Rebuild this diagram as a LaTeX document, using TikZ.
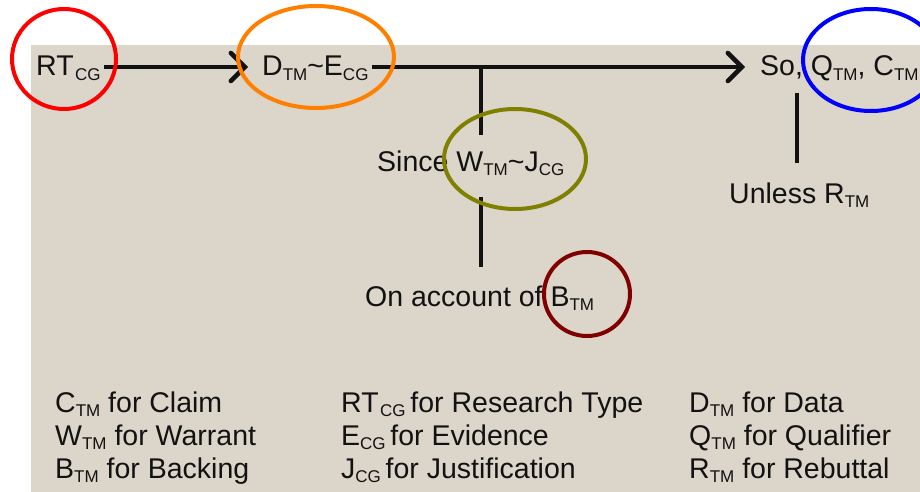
\documentclass[tikz,border=0pt]{standalone}
\usepackage{fontspec}
\setmainfont{Liberation Sans}
\usetikzlibrary{arrows.meta,shapes.geometric}
\definecolor{paper}{RGB}{219,213,202}
\definecolor{ink}{RGB}{18,18,18}
\definecolor{ringorange}{RGB}{255,128,0}
\definecolor{ringolive}{RGB}{128,128,0}
\definecolor{ringmaroon}{RGB}{128,0,0}
\newcommand\lo[1]{\raisebox{-0.30ex}{\fontsize{17}{17}\selectfont #1}}
\tikzset{
  txt/.style={anchor=base west, inner sep=0pt, text=ink, font=\fontsize{28.5}{28.5}\selectfont},
  leg/.style={anchor=base west, inner sep=0pt, text=ink, font=\fontsize{28.5}{28.5}\selectfont},
  flow/.style={draw=ink, line width=4.5pt,
    -{Straight Barb[length=14pt,width=28pt,line width=4.5pt,line cap=round]}},
  tie/.style={draw=ink, line width=4.5pt},
  ring/.style={draw=#1, line width=4pt, ellipse, inner sep=0pt}
}
\begin{document}
\begin{tikzpicture}[x=1pt,y=-1pt]
\useasboundingbox (0,0) rectangle (920,492);
\clip (0,0) rectangle (920,492);
% page background
\fill[white] (0,0) rectangle (920,492);
\fill[paper] (31,45) rectangle (920,492);

% main chain
\node[txt] (rt) at (36,76) {RT\kern1.5pt\lo{CG}};
\node[txt] (de) at (262,76) {D\lo{TM}\textasciitilde E\lo{CG}};
\node[txt] (so) at (760,76) {So, Q\lo{TM}, C\lo{TM}};
\node[txt] (since) at (377,171) {Since W\lo{TM}\textasciitilde J\lo{CG}};
\node[txt] (acc) at (365,306) {On account of B\lo{TM}};
\node[txt] (unless) at (729,203) {Unless R\lo{TM}};

% junctions and line ends
\coordinate (j) at (481,67);
\coordinate (wTop) at (481,135);
\coordinate (wBot) at (481,197);
\coordinate (bTop) at (481,267);
\coordinate (rTop) at (797,93);
\coordinate (rBot) at (797,163);

\draw[flow] ([xshift=3pt]rt.east |- j) -- ([xshift=-14pt]de.west |- j);
\draw[flow] ([xshift=3pt]de.east |- j) -- ([xshift=-15pt]so.west |- j);
\draw[tie] (j) -- (wTop);
\draw[tie] (wBot) -- (bTop);
\draw[tie] (rTop) -- (rBot);

% highlight rings
\node[ring=red, minimum width=104pt, minimum height=100pt] (cRT) at (64,59) {};
\node[ring=ringorange, minimum width=156pt, minimum height=102pt] (cDE) at (316,57) {};
\node[ring=ringolive, minimum width=142pt, minimum height=100pt] (cWJ) at (515,159) {};
\node[ring=ringmaroon, minimum width=86pt, minimum height=84pt] (cB) at (587,294) {};
\node[ring=blue, minimum width=136pt, minimum height=102pt] (cQC) at (871,60) {};

% legend
\node[leg] (l1) at (55,412) {C\lo{TM} for Claim};
\node[leg] (l2) at (55,445) {W\lo{TM} for Warrant};
\node[leg] (l3) at (55,478) {B\lo{TM} for Backing};
\node[leg] (l4) at (341,412) {RT\kern1.5pt\lo{CG}\,for Research Type};
\node[leg] (l5) at (341,445) {E\lo{CG}\,for Evidence};
\node[leg] (l6) at (341,478) {J\lo{CG}\,for Justification};
\node[leg] (l7) at (689,412) {D\lo{TM} for Data};
\node[leg] (l8) at (689,445) {Q\lo{TM} for Qualifier};
\node[leg] (l9) at (689,478) {R\lo{TM} for Rebuttal};
\end{tikzpicture}
\end{document}
